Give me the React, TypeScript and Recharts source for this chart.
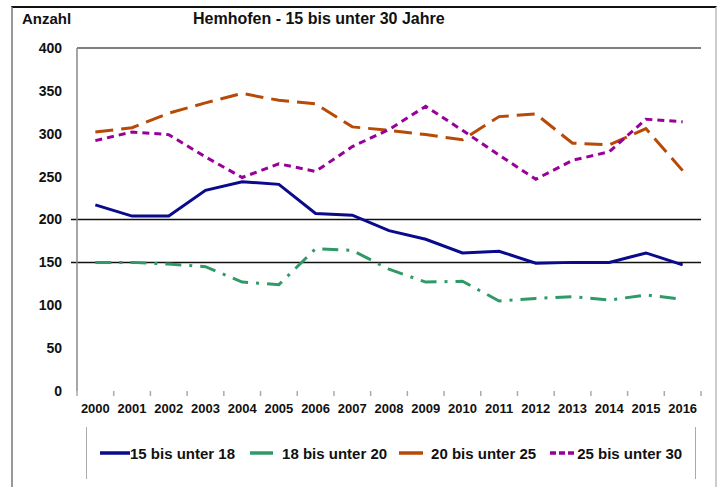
import React from 'react';
import { LineChart, Line, XAxis, YAxis, ReferenceLine } from 'recharts';

const years = ['2000', '2001', '2002', '2003', '2004', '2005', '2006', '2007', '2008', '2009', '2010', '2011', '2012', '2013', '2014', '2015', '2016'];
const age15to18 = [217, 204, 204, 234, 244, 241, 207, 205, 187, 177, 161, 163, 149, 150, 150, 161, 147];
const age18to20 = [150, 150, 148, 145, 127, 124, 166, 164, 142, 127, 128, 105, 108, 110, 106, 112, 107];
const age20to25 = [302, 307, 324, 336, 347, 339, 335, 308, 304, 299, 293, 320, 323, 289, 287, 306, 257];
const age25to30 = [292, 302, 299, 273, 249, 265, 256, 285, 305, 332, 304, 275, 247, 269, 279, 317, 314];
const yTicks = [0, 50, 100, 150, 200, 250, 300, 350, 400];

const data = years.map((year, i) => ({
    year,
    a: age15to18[i],
    b: age18to20[i],
    c: age20to25[i],
    d: age25to30[i],
}));

// legend spacing: before = gap before icon, after = gap between icon and text
const series = [
    { key: 'a', name: '15 bis unter 18', color: '#0a0a8c', dash: undefined, iconW: 30, iconDash: undefined, before: 0, after: 0 },
    { key: 'b', name: '18 bis unter 20', color: '#2f9a68', dash: '16 8 3 8', iconW: 23, iconDash: undefined, before: 15, after: 9 },
    { key: 'c', name: '20 bis unter 25', color: '#b84a08', dash: '18 8', iconW: 24, iconDash: undefined, before: 12, after: 8 },
    { key: 'd', name: '25 bis unter 30', color: '#990099', dash: '7 5', iconW: 24, iconDash: '6 3', before: 14, after: 3 },
];

const FONT = '"Liberation Sans", Arial, sans-serif';
const HALF_STEP = 624 / years.length / 2;

const YearTick = (props: any) => {
    const { x, y, payload, index } = props;
    return (
        <g>
            <line x1={x - HALF_STEP} y1={y - 8} x2={x - HALF_STEP} y2={y - 3} stroke="#aaa" strokeWidth={1.5} />
            {index === years.length - 1 && (
                <line x1={x + HALF_STEP} y1={y - 8} x2={x + HALF_STEP} y2={y - 3} stroke="#aaa" strokeWidth={1.5} />
            )}
            <text x={x} y={y + 14} textAnchor="middle" fontFamily={FONT} fontWeight="bold" fontSize={13} fill="#111">
                {payload.value}
            </text>
        </g>
    );
};

const GridLine = (props: any) => {
    const { x1, y1, x2, y2 } = props;
    return <line x1={x1 - 6} y1={y1} x2={x2} y2={y2} stroke="#111" strokeWidth={1.5} />;
};

export default function App() {
    return (
        <div style={{ position: 'absolute', left: 0, top: 0, width: 720, height: 487, background: '#fff', overflow: 'hidden', fontFamily: FONT }}>
            <div style={{ position: 'absolute', left: 11, top: 6, width: 702, height: 490, borderTop: '2px solid #111', borderLeft: '2px solid #999', borderRight: '2px solid #ccc' }} />
            <div style={{ position: 'absolute', left: 22, top: 10, fontSize: 15, fontWeight: 'bold', color: '#111' }}>Anzahl</div>
            <div style={{ position: 'absolute', left: 193, top: 10, fontSize: 16, fontWeight: 'bold', color: '#111' }}>Hemhofen - 15 bis unter 30 Jahre</div>
            <LineChart width={720} height={487} data={data} margin={{ top: 48, right: 19, left: 17, bottom: 66 }}>
                <XAxis
                    dataKey="year"
                    padding={{ left: HALF_STEP, right: HALF_STEP }}
                    axisLine={false}
                    tickLine={false}
                    tick={<YearTick />}
                    interval={0}
                    height={30}
                    tickSize={0}
                    tickMargin={8}
                />
                <YAxis
                    domain={[0, 400]}
                    ticks={yTicks}
                    width={60}
                    axisLine={{ stroke: '#888', strokeWidth: 1.5 }}
                    tickLine={false}
                    tickSize={6}
                    tickMargin={9}
                    tick={{ fontFamily: FONT, fontWeight: 'bold', fontSize: 14, fill: '#111' }}
                />
                <YAxis
                    yAxisId="r"
                    orientation="right"
                    domain={[0, 400]}
                    width={0}
                    tick={false}
                    tickLine={false}
                    axisLine={{ stroke: '#555', strokeWidth: 1.5 }}
                />
                <ReferenceLine y={400} stroke="#555" strokeWidth={1.5} />
                <ReferenceLine y={200} shape={<GridLine />} />
                <ReferenceLine y={150} shape={<GridLine />} />
                {series.map((s) => (
                    <Line
                        key={s.key}
                        dataKey={s.key}
                        name={s.name}
                        type="linear"
                        stroke={s.color}
                        strokeWidth={3}
                        strokeDasharray={s.dash}
                        dot={false}
                        activeDot={false}
                        isAnimationActive={false}
                    />
                ))}
            </LineChart>
            <div style={{ position: 'absolute', left: 86, top: 427, width: 610, height: 52, borderLeft: '1.5px solid #aaa', borderRight: '1.5px solid #aaa', display: 'flex', alignItems: 'center', paddingLeft: 13, boxSizing: 'border-box' }}>
                {series.map((s) => (
                    <div key={s.key} style={{ display: 'flex', alignItems: 'center', marginLeft: s.before }}>
                        <svg width={s.iconW} height={10} style={{ marginRight: s.after }}>
                            <line x1={0} y1={5} x2={s.iconW} y2={5} stroke={s.color} strokeWidth={3.5} strokeDasharray={s.iconDash} />
                        </svg>
                        <span style={{ fontSize: 15, fontWeight: 'bold', color: '#111', whiteSpace: 'nowrap' }}>{s.name}</span>
                    </div>
                ))}
            </div>
        </div>
    );
}
